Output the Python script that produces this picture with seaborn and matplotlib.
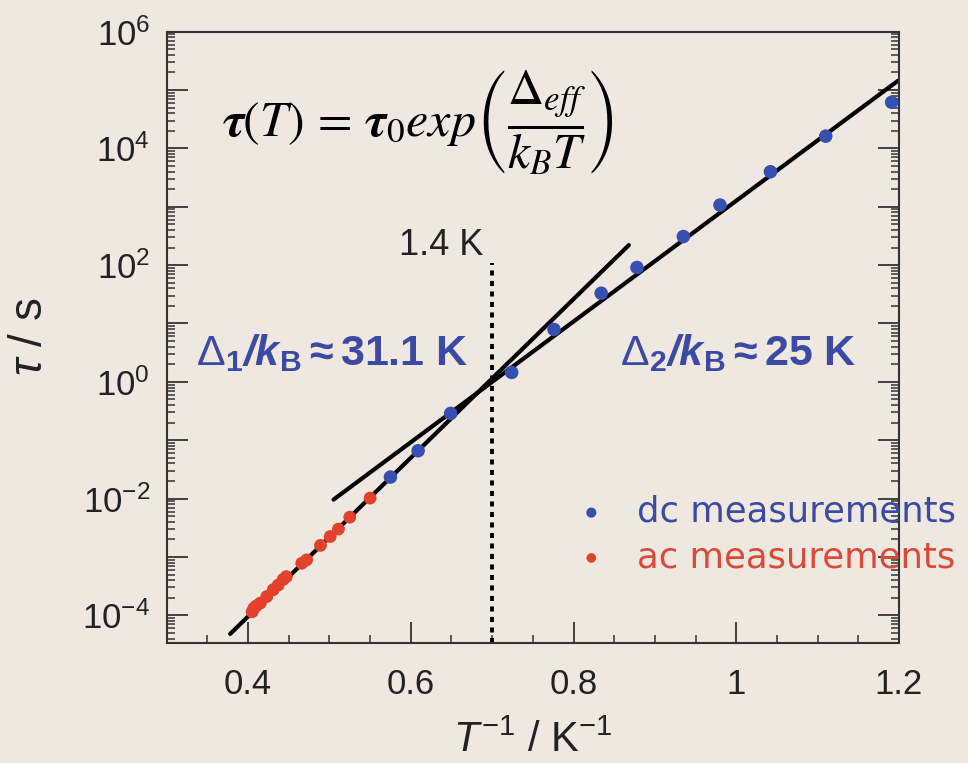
import math
import pandas as pd
import seaborn as sns
import matplotlib
matplotlib.use('Agg')
import matplotlib.pyplot as plt
from matplotlib.ticker import FixedLocator, LogLocator, FuncFormatter, MultipleLocator, NullFormatter

# dc measurements: inverse temperature (1/K) and relaxation time (s)
dc_inv_t = [0.575, 0.609, 0.649, 0.724, 0.776, 0.834, 0.878, 0.935, 0.980, 1.042, 1.110, 1.191]
dc_tau = [2.34e-2, 6.6e-2, 2.88e-1, 1.45, 7.9, 33, 91, 309, 1070, 3980, 16200, 61700]

# ac measurements
ac_inv_t = [0.405, 0.407, 0.410, 0.415, 0.423, 0.431, 0.437, 0.443, 0.447,
            0.466, 0.472, 0.489, 0.501, 0.511, 0.525, 0.550]
ac_tau = [1.15e-4, 1.32e-4, 1.45e-4, 1.62e-4, 2.1e-4, 2.75e-4, 3.3e-4, 4.1e-4, 4.6e-4,
          7.8e-4, 8.9e-4, 1.58e-3, 2.24e-3, 3.0e-3, 4.8e-3, 1.02e-2]

# Arrhenius fit lines (end points)
fit1_inv_t = [0.378, 0.868]
fit1_tau = [4.8e-5, 2.2e2]
fit2_inv_t = [0.505, 1.199]
fit2_tau = [9.6e-3, 1.45e5]

# crossover line
cross_inv_t = [0.7, 0.7]
cross_tau = [3.4e-5, 1.1e2]

x_ticks = [0.4, 0.6, 0.8, 1.0, 1.2]

BG = '#efe8e0'
BLUE = '#3550b0'
RED = '#e2412b'
LABEL_BLUE = '#3b4aa3'


def ylab(v, p):
    e = int(round(math.log10(v)))
    return r'$\mathrm{10^{%d}}$' % e if e % 2 == 0 else ''


def create_plot():
    sns.set_theme(style='ticks')
    plt.rcParams['font.family'] = ['Liberation Sans', 'DejaVu Sans']
    plt.rcParams['mathtext.fontset'] = 'custom'
    plt.rcParams['mathtext.rm'] = 'Liberation Sans'
    plt.rcParams['mathtext.it'] = 'Liberation Sans:italic'
    plt.rcParams['mathtext.bf'] = 'Liberation Sans:bold'
    plt.rcParams['mathtext.bfit'] = 'Liberation Sans:bold:italic'
    plt.rcParams['mathtext.default'] = 'it'

    dc = pd.DataFrame({'inv_t': dc_inv_t, 'tau': dc_tau})
    ac = pd.DataFrame({'inv_t': ac_inv_t, 'tau': ac_tau})

    fig = plt.figure(figsize=(9.68, 7.63), dpi=100, facecolor=BG)
    ax = fig.add_axes([0.1722, 0.1577, 0.7565, 0.8008], facecolor=BG)

    # fit lines and crossover
    sns.lineplot(x=fit1_inv_t, y=fit1_tau, color='black', lw=3, ax=ax, zorder=2)
    sns.lineplot(x=fit2_inv_t, y=fit2_tau, color='black', lw=3, ax=ax, zorder=2)
    ax.plot(cross_inv_t, cross_tau, color='black', lw=2.8, dashes=(1.3, 1.4), zorder=2)

    # data points
    sns.scatterplot(data=dc, x='inv_t', y='tau', color=BLUE, s=95, edgecolor='none',
                    label='dc measurements', ax=ax, zorder=3)
    sns.scatterplot(data=ac, x='inv_t', y='tau', color=RED, s=85, edgecolor='none',
                    label='ac measurements', ax=ax, zorder=3, clip_on=False)

    ax.set_yscale('log')
    ax.set_xlim(0.3, 1.2)
    ax.set_ylim(3.4e-5, 1e6)

    ax.xaxis.set_major_locator(FixedLocator(x_ticks))
    ax.xaxis.set_minor_locator(MultipleLocator(0.05))
    ax.xaxis.set_major_formatter(FuncFormatter(lambda v, p: '%g' % v))
    ax.yaxis.set_major_locator(LogLocator(base=10, numticks=20))
    ax.yaxis.set_minor_locator(LogLocator(base=10, subs=range(2, 10), numticks=100))
    ax.yaxis.set_minor_formatter(NullFormatter())
    ax.yaxis.set_major_formatter(FuncFormatter(ylab))

    for side in ['left', 'right', 'top', 'bottom']:
        ax.spines[side].set_linewidth(1.5)
        ax.spines[side].set_color('#333333')
    ax.tick_params(which='major', direction='in', length=15, width=1.3, color='#333333',
                   labelsize=25, labelcolor='#222222', right=True)
    ax.tick_params(which='minor', direction='in', length=6, width=1.1, color='#333333', right=True)
    ax.tick_params(axis='x', which='major', pad=18)
    ax.tick_params(axis='y', which='major', pad=12)

    ax.set_xlabel(r'$T^{\mathrm{-1}}\mathrm{\ /\ K^{-1}}$', fontsize=30, labelpad=14, color='#222222')
    ax.set_ylabel(r'$\tau\mathrm{\ /\ s}$', fontsize=33, labelpad=22, color='#222222')

    # annotations
    ax.text(0.6887, 10**2.33, '1.4 K', fontsize=26, ha='right', va='center', color='#222222')
    ax.text(0.503, 10**0.5,
            r'$\mathrm{\Delta}_{\mathbf{1}}\mathbfit{/k}_{\mathbf{B}}\mathbf{\approx 31.1\ K}$',
            fontsize=31, ha='center', va='center', color=LABEL_BLUE)
    ax.text(1.002, 10**0.5,
            r'$\mathrm{\Delta}_{\mathbf{2}}\mathbfit{/k}_{\mathbf{B}}\mathbf{\approx 25\ K}$',
            fontsize=31, ha='center', va='center', color=LABEL_BLUE)
    ax.text(0.368, 10**4.45,
            r'$\boldsymbol{\tau}(T)\,=\,\boldsymbol{\tau}_0 exp\left(\dfrac{\mathrm{\Delta}_{eff}}{k_B T}\right)$',
            fontsize=36, ha='left', va='center', math_fontfamily='stix', color='black')

    ax.legend(loc='upper left', bbox_to_anchor=(0.546, 0.265), frameon=False,
              prop={'family': 'DejaVu Sans', 'size': 25.5}, labelcolor=[LABEL_BLUE, '#d94a38'],
              handletextpad=1.0, borderaxespad=0, labelspacing=0.32, markerscale=0.75,
              handlelength=0.6)

    fig.savefig('out.png', dpi=100, facecolor=BG)


if __name__ == "__main__":
    create_plot()
